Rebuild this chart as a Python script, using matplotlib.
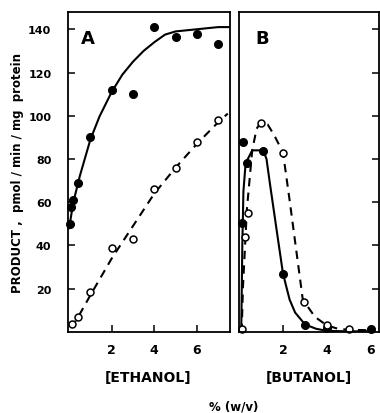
import matplotlib
matplotlib.use("Agg")
import matplotlib.pyplot as plt

# panel A - ethanol
eth_filled_x = [0.05, 0.1, 0.2, 0.4, 1.0, 2.0, 3.0, 4.0, 5.0, 6.0, 7.0]
eth_filled_y = [50, 58, 61, 69, 90, 112, 110, 141, 136.5, 138, 133]
eth_open_x = [0.15, 0.4, 1.0, 2.0, 3.0, 4.0, 5.0, 6.0, 7.0]
eth_open_y = [3.7, 7, 18.4, 39, 43, 66, 76, 88, 98]

# hand-drawn fit curves
eth_solid_x = [0.0, 0.2, 0.5, 1.0, 1.43, 2.0, 2.5, 3.0, 3.5, 4.0, 4.5, 5.0, 6.0, 7.0, 7.5]
eth_solid_y = [48, 60, 72, 89, 99.7, 111, 119, 125, 130, 134, 137.5, 139, 140, 141, 141]
eth_dash_x = [0.1, 0.4, 1.0, 2.0, 3.0, 4.0, 5.0, 6.0, 7.0, 7.45]
eth_dash_y = [2, 6.5, 17, 34, 49, 64, 76, 87, 97, 101]

# panel B - butanol
but_filled_x = [0.14, 0.18, 0.36, 1.1, 2.0, 3.0, 4.0, 6.0]
but_filled_y = [50.6, 88, 78, 83.5, 26.7, 3, 2, 1.5]
but_open_x = [0.14, 0.27, 0.4, 1.0, 2.0, 2.95, 4.0, 5.0]
but_open_y = [1.4, 44, 55, 96.7, 83, 14, 3, 1.5]

but_solid_x = [0.1, 0.15, 0.2, 0.3, 0.6, 1.1, 1.25, 1.4, 1.77, 2.0, 2.3, 2.55, 3.0, 3.5, 4.0, 5.0, 6.0]
but_solid_y = [0, 40, 65, 78, 84, 84, 80, 69, 43, 27, 15, 9, 3.5, 1.5, 0.5, 0.3, 0.3]
but_dash_x = [0.12, 0.18, 0.36, 0.6, 0.8, 1.0, 1.3, 1.6, 2.0, 2.3, 2.6, 2.9, 3.45, 4.0, 4.5, 5.0, 6.0]
but_dash_y = [0, 21, 57, 84, 94, 97, 96, 91, 83, 61, 38, 15, 7, 3, 1.5, 1, 0.8]

yticks = [20, 40, 60, 80, 100, 120, 140]
xticks = [2, 4, 6]

plt.rcParams['font.family'] = ['DejaVu Sans']
plt.rcParams['font.weight'] = 'bold'

fig = plt.figure(figsize=(3.8, 4.14), dpi=100)
axA = fig.add_axes([0.179, 0.1957, 0.426, 0.773])
axB = fig.add_axes([0.629, 0.1957, 0.368, 0.773])

for ax in (axA, axB):
    for s in ax.spines.values():
        s.set_linewidth(1.3)
    ax.set_ylim(0, 148)
    ax.set_xticks(xticks)
    ax.tick_params(direction='in', length=5, width=1.1, labelsize=9, pad=8)
    for lab in ax.get_xticklabels():
        lab.set_fontweight('bold')

axA.set_xlim(-0.05, 7.55)
axB.set_xlim(0, 6.36)

axA.plot(eth_solid_x, eth_solid_y, color='black', lw=1.5)
axA.plot(eth_dash_x, eth_dash_y, color='black', lw=1.5, ls=(0, (4, 3)))
axA.plot(eth_filled_x, eth_filled_y, 'o', color='black', ms=5.5, clip_on=False)
axA.plot(eth_open_x, eth_open_y, 'o', mfc='white', mec='black', mew=1.1, ms=5, clip_on=False)

axB.plot(but_solid_x, but_solid_y, color='black', lw=1.5)
axB.plot(but_dash_x, but_dash_y, color='black', lw=1.5, ls=(0, (4, 3)))
axB.plot(but_filled_x, but_filled_y, 'o', color='black', ms=5.5, clip_on=False)
axB.plot(but_open_x, but_open_y, 'o', mfc='white', mec='black', mew=1.1, ms=5, clip_on=False)

axA.set_yticks(yticks)
axA.set_yticklabels([str(v) for v in yticks], fontweight='bold')
axA.tick_params(axis='y', pad=12, labelsize=8)
axB.set_yticks(yticks)
axB.tick_params(axis='y', left=False, right=True, labelleft=False)

axA.text(0.9, 136, 'A', fontsize=13, ha='center', va='center')
axB.text(1.05, 136, 'B', fontsize=13, ha='center', va='center')

axA.set_ylabel('PRODUCT ,  pmol / min / mg  protein', fontsize=8.5, fontweight='bold', labelpad=3)

fig.text(0.39, 0.087, '[ETHANOL]', fontsize=10, ha='center', va='center', fontweight='bold')
fig.text(0.813, 0.087, '[BUTANOL]', fontsize=10, ha='center', va='center', fontweight='bold')
fig.text(0.614, 0.017, '% (w/v)', fontsize=8.5, ha='center', va='center', fontweight='bold')

fig.savefig('out.png', dpi=100)
